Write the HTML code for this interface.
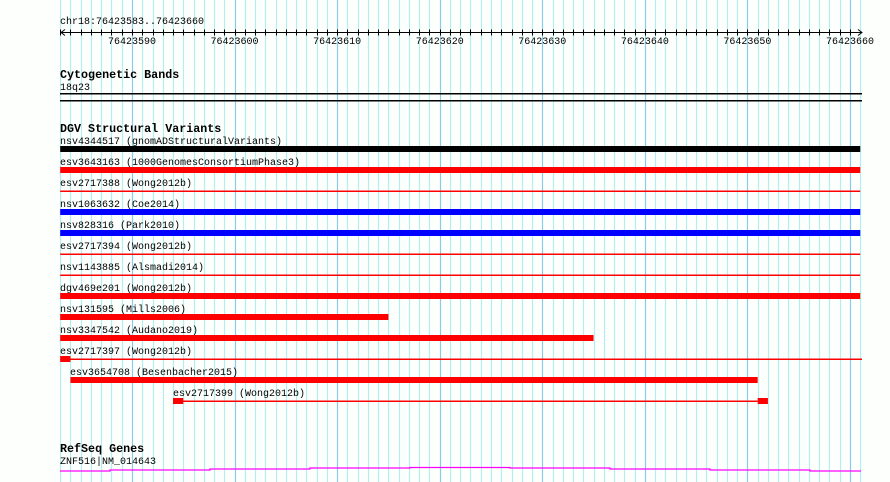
<!DOCTYPE html>
<html><head><meta charset="utf-8"><style>
html,body{margin:0;padding:0;background:#fdfffd;}
svg{display:block;}
.t{font-family:"Liberation Mono","DejaVu Sans Mono",monospace;font-size:10px;fill:#000;}
.h{font-family:"Liberation Mono","DejaVu Sans Mono",monospace;font-size:11.7px;font-weight:bold;fill:#000;}
</style></head><body>
<svg id="chart" width="890" height="482" xmlns="http://www.w3.org/2000/svg">
<rect x="0" y="0" width="890" height="482" fill="#fdfffd"/>
<g id="grid"></g>
<g id="ruler"></g>
<g id="tracks"></g>
</svg>
<script>
const START = 76423583;
const END = 76423660;
const tickLabels = [76423590,76423600,76423610,76423620,76423630,76423640,76423650,76423660];
const featNames = ["nsv4344517","esv3643163","esv2717388","nsv1063632","nsv828316","esv2717394","nsv1143885","dgv469e201","nsv131595","nsv3347542","esv2717397","esv3654708","esv2717399"];
const featSources = ["gnomADStructuralVariants","1000GenomesConsortiumPhase3","Wong2012b","Coe2014","Park2010","Wong2012b","Alsmadi2014","Wong2012b","Mills2006","Audano2019","Wong2012b","Besenbacher2015","Wong2012b"];
const featStarts = [76423583,76423583,76423583,76423583,76423583,76423583,76423583,76423583,76423583,76423583,76423583,76423584,76423594];
const featEnds = [76423661,76423661,76423661,76423661,76423661,76423661,76423661,76423661,76423615,76423635,76423584,76423651,76423652];
const featColors = ["#000000","#ff0000","#ff0000","#0000ff","#0000ff","#ff0000","#ff0000","#ff0000","#ff0000","#ff0000","#ff0000","#ff0000","#ff0000"];
const featKinds = ["bar","bar","line","bar","bar","line","line","bar","bar","bar","block","bar","split"];

const NS="http://www.w3.org/2000/svg";
const PX = 10.257, X0 = 60.2, RIGHT = 862;
function xs(b){ return X0 + (b-START)*PX; }
function el(tag, attrs, parent, text){
  const e=document.createElementNS(NS,tag);
  for(const k in attrs) e.setAttribute(k,attrs[k]);
  if(text!==undefined) e.textContent=text;
  parent.appendChild(e); return e;
}
const grid=document.getElementById('grid');
for(let b=START;b<=END+1;b++){
  const x=Math.round(xs(b))+0.5;
  const major=(b%10===0);
  const l=el('line',{x1:x,x2:x,y1:0,y2:482,stroke:major?'#8ccbe8':'#b4eef0','stroke-width':1.2},grid);
  
  
}
const ruler=document.getElementById('ruler');
const rt=el('text',{x:60,y:24,class:'t'},ruler,'chr18:'+START+'..'+END);


const rl=el('line',{x1:61,x2:RIGHT,y1:32.5,y2:32.5,stroke:'#000'},ruler);


el('path',{d:'M65,29.5 L61,32.5 L65,35.5',fill:'none',stroke:'#000'},ruler);
el('path',{d:'M858,29.5 L862,32.5 L858,35.5',fill:'none',stroke:'#000'},ruler);
for(let b=START;b<=END;b++){
  const x=Math.round(xs(b))+0.5;
  const tk=el('line',{x1:x,x2:x,y1:29.5,y2:35.5,stroke:'#000'},ruler);
  
  
}
tickLabels.forEach(v=>{
  const t=el('text',{x:xs(v),y:44,class:'t','text-anchor':'middle'},ruler,String(v));
  
  
});
const tr=document.getElementById('tracks');
function heading(y,txt,name){
  const h=el('text',{x:60,y:y,class:'h'},tr,txt);
  
  
}
heading(78,'Cytogenetic Bands','cytoband-track-title');
const cb=el('text',{x:60,y:90,class:'t'},tr,'18q23');


el('rect',{x:60,y:93,width:802,height:1.5,fill:'#000'},tr);
el('rect',{x:60,y:100,width:802,height:1.5,fill:'#000'},tr);
heading(132,'DGV Structural Variants','dgv-track-title');
for(let i=0;i<featNames.length;i++){
  const top=137+i*21;
  const s=featStarts[i], e=featEnds[i], c=featColors[i], k=featKinds[i];
  const lx = Math.max(60, Math.round(xs(s)));
  const lab=el('text',{x:lx,y:top+7,class:'t'},tr,featNames[i]+' ('+featSources[i]+')');
  
  
  const by=top+9;
  let m;
  if(k==='bar'){
    m=el('rect',{x:xs(s),y:by,width:Math.min(xs(e),RIGHT)-xs(s),height:6,fill:c},tr);
  } else if(k==='line'){
    m=el('rect',{x:xs(s),y:by+2.5,width:Math.min(xs(e),RIGHT)-xs(s),height:1.5,fill:c},tr);
  } else if(k==='block'){
    m=el('rect',{x:xs(s),y:by,width:xs(s+1)-xs(s),height:6,fill:c},tr);
    el('rect',{x:xs(s),y:by+2.5,width:RIGHT-xs(s),height:1.5,fill:c},tr);
  } else {
    m=el('rect',{x:xs(s),y:by,width:PX,height:6,fill:c},tr);
    el('rect',{x:xs(e-1),y:by,width:PX,height:6,fill:c},tr);
    el('rect',{x:xs(s),y:by+2.5,width:xs(e-1)-xs(s),height:1.5,fill:c},tr);
  }
  
  
}
heading(452,'RefSeq Genes','refseq-track-title');
const gl=el('text',{x:60,y:464,class:'t'},tr,'ZNF516|NM_014643');


const gp=el('path',{d:'M60,471 H110 V470 H210 V469 H310 V468 H410 V467.5 H510 V468 H610 V469 H710 V470 H810 V471 H861',fill:'none',stroke:'#ff00ff','stroke-width':1.3},tr);


</script>
</body></html>
